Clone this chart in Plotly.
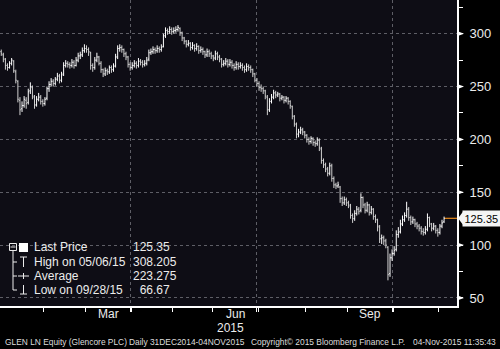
import plotly.graph_objects as go
import pandas as pd

# ---------------- data ----------------
holidays = ["2015-01-01", "2015-04-03", "2015-04-06", "2015-05-04", "2015-05-25", "2015-08-31"]

opens = [285, 283, 280, 276, 270, 268, 272, 274, 264, 255, 237, 229, 232, 237, 235, 246, 249, 240, 233, 238,
         240, 236, 234, 239, 248, 252, 255, 253, 257, 260, 256, 262, 270, 272, 271, 270, 273, 270, 275, 279,
         280, 284, 286, 285, 282, 270, 268, 275, 278, 272, 266, 262, 265, 264, 268, 266, 270, 278, 286, 287,
         285, 281, 278, 271, 268, 270, 272, 270, 274, 273, 271, 272, 276, 282, 283, 285, 284, 286, 285, 288,
         298, 303, 302, 304, 302, 303, 304, 305, 301, 296, 293, 290, 291, 287, 289, 286, 288, 284, 285, 283,
         280, 283, 281, 279, 277, 281, 278, 276, 271, 272, 274, 271, 273, 270, 268, 271, 269, 270, 268, 266,
         269, 268, 266, 262, 256, 253, 249, 248, 246, 240, 228, 236, 240, 244, 242, 243, 239, 240, 237, 239,
         236, 231, 222, 214, 205, 207, 209, 207, 204, 200, 198, 201, 197, 196, 199, 191, 180, 176, 172, 168,
         175, 163, 157, 156, 155, 144, 140, 143, 140, 137, 128, 125, 130, 134, 133, 145, 138, 133, 138, 131,
         134, 127, 124, 117, 106, 107, 104, 98, 73, 88, 92, 96, 110, 113, 120, 124, 128, 134, 126, 122,
         124, 120, 118, 116, 113, 112, 115, 126, 120, 116, 118, 114, 112, 118, 122]
highs = [287, 285, 282, 277, 272, 274, 277, 275, 266, 256, 240, 236, 241, 240, 248, 254, 251, 242, 241, 244,
         242, 238, 240, 250, 255, 258, 257, 259, 263, 262, 264, 273, 275, 274, 273, 276, 275, 278, 282, 283,
         287, 290, 289, 287, 283, 272, 278, 282, 279, 274, 267, 268, 267, 270, 270, 272, 281, 289, 290, 289,
         286, 283, 279, 273, 273, 275, 274, 277, 276, 275, 275, 278, 285, 286, 288, 287, 289, 288, 290, 300,
         306, 305, 307, 306, 306, 307, 308.205, 306, 302, 297, 294, 294, 292, 292, 290, 291, 289, 288, 287, 284,
         286, 285, 283, 280, 284, 283, 280, 277, 275, 277, 276, 276, 275, 272, 274, 273, 273, 272, 270, 272,
         271, 270, 267, 263, 258, 255, 252, 250, 247, 242, 239, 243, 247, 246, 245, 244, 242, 241, 241, 240,
         237, 232, 223, 216, 210, 212, 211, 208, 205, 202, 203, 202, 199, 202, 201, 193, 182, 178, 174, 178,
         177, 165, 159, 160, 156, 146, 146, 145, 142, 139, 130, 133, 137, 136, 149, 146, 140, 141, 139, 137,
         135, 129, 125, 119, 110, 109, 106, 99, 92, 96, 99, 114, 117, 124, 128, 131, 141, 136, 128, 127,
         125, 122, 120, 118, 116, 118, 130, 127, 121, 121, 119, 116, 120, 124, 127]
lows = [281, 279, 273, 266, 265, 267, 270, 263, 253, 235, 223, 226, 230, 229, 233, 243, 238, 229, 231, 236,
        233, 231, 232, 237, 245, 250, 250, 251, 255, 253, 254, 260, 268, 268, 267, 268, 267, 269, 273, 276,
        278, 282, 282, 279, 266, 264, 266, 273, 270, 263, 259, 260, 261, 262, 263, 264, 268, 276, 283, 282,
        278, 275, 268, 265, 266, 268, 267, 268, 270, 268, 269, 270, 274, 280, 281, 281, 282, 282, 283, 287,
        296, 299, 300, 299, 300, 301, 302, 298, 293, 290, 287, 288, 284, 285, 283, 284, 281, 282, 280, 277,
        278, 278, 276, 274, 275, 275, 273, 268, 269, 270, 268, 269, 267, 265, 266, 266, 267, 265, 263, 264,
        265, 263, 259, 254, 250, 246, 245, 243, 238, 223, 226, 234, 238, 239, 240, 236, 237, 234, 235, 233,
        229, 219, 212, 201, 202, 205, 204, 201, 197, 195, 196, 194, 193, 194, 189, 177, 173, 169, 165, 166,
        160, 154, 153, 154, 140, 137, 138, 137, 135, 125, 121, 123, 128, 129, 131, 135, 130, 131, 128, 129,
        124, 121, 113, 102, 101, 100, 97, 66.67, 70, 85, 90, 94, 107, 111, 118, 122, 126, 123, 119, 120,
        117, 115, 113, 110, 109, 110, 113, 117, 113, 114, 111, 108, 110, 116, 121]
closes = [283, 281, 276, 270, 268, 272, 275, 265, 256, 238, 228, 232, 238, 234, 245, 250, 241, 232, 238, 240,
          236, 234, 238, 248, 252, 255, 253, 257, 260, 256, 261, 270, 272, 271, 270, 273, 270, 275, 279, 280,
          284, 286, 285, 283, 270, 268, 275, 278, 272, 266, 262, 265, 264, 268, 266, 269, 278, 286, 287, 285,
          281, 278, 271, 268, 270, 272, 270, 274, 273, 271, 272, 275, 282, 283, 285, 284, 286, 285, 287, 298,
          303, 302, 304, 302, 303, 304, 306, 301, 296, 293, 290, 291, 287, 289, 286, 288, 284, 285, 283, 280,
          283, 281, 279, 277, 281, 278, 276, 271, 272, 274, 271, 273, 270, 268, 271, 269, 270, 268, 266, 269,
          268, 266, 262, 256, 253, 249, 248, 246, 241, 228, 236, 240, 244, 242, 243, 239, 240, 237, 239, 236,
          232, 222, 215, 205, 207, 209, 207, 204, 200, 198, 201, 197, 196, 200, 192, 180, 176, 172, 168, 175,
          163, 157, 156, 157, 144, 140, 143, 140, 138, 128, 125, 130, 134, 132, 145, 138, 133, 138, 131, 134,
          127, 124, 118, 106, 107, 104, 100, 72, 88, 92, 95, 110, 112, 120, 124, 128, 134, 126, 122, 124,
          120, 118, 116, 113, 112, 115, 126, 120, 116, 118, 114, 112, 118, 121, 125.35]

y_ticks = [50, 100, 150, 200, 250, 300]
last_price = 125.35
legend_rows = [("Last Price", "125.35"), ("High on 05/06/15", "308.205"),
               ("Average", "223.275"), ("Low on 09/28/15", " 66.67")]
month_labels = ["Mar", "Jun", "Sep"]
year_label = "2015"
footer_left = "GLEN LN Equity (Glencore PLC)"
footer_mid = "Daily 31DEC2014-04NOV2015"
footer_copy = "Copyright\u00a9 2015 Bloomberg Finance L.P."
footer_time = "04-Nov-2015 11:35:43"

# ---------------- geometry ----------------
W, H = 500, 349
PL, PR, PT, PB = 0, 457, 0, 306       # plot area in pixels
X_RANGE = [0.4, 0.4 + (PR - PL) / 2.079]
Y_RANGE = [42.4, 331.9]

n = len(closes)
dates = pd.bdate_range("2014-12-31", "2015-11-04", freq="C", holidays=holidays)[:n]
xs = list(range(n))


def px(x):
    return (x - PL) / (PR - PL)


def py(y):
    return (PB - y) / (PB - PT)


def ypx_per_unit():
    return (PB - PT) / (Y_RANGE[1] - Y_RANGE[0])


first_idx = {}
last_idx = {}
for i, d in enumerate(dates):
    key = (d.year, d.month)
    first_idx.setdefault(key, i)
    last_idx[key] = i
keys = list(first_idx.keys())
minor_ticks = [first_idx[k] - 0.5 for k in keys[2:]]
quarter_ends = [last_idx[(2015, m)] for m in (3, 6, 9)]
month_centers = {m: (first_idx[(2015, m)] + last_idx[(2015, m)]) / 2 for m in (3, 6, 9)}

BG = "#0e0d15"
FG = "#ececec"
FONT = "Liberation Sans, Arial, sans-serif"

fig = go.Figure()
fig.add_trace(go.Ohlc(
    x=xs, open=opens, high=highs, low=lows, close=closes,
    increasing=dict(line=dict(color="#ffffff", width=1)),
    decreasing=dict(line=dict(color="#d0d0d0", width=1)),
    tickwidth=0.45, showlegend=False, hoverinfo="skip",
))

shapes = []
annotations = []

# legend background (hides gridlines)
shapes.append(dict(type="rect", xref="paper", yref="paper", x0=px(0), x1=px(173), y0=py(297), y1=py(237),
                   fillcolor=BG, line=dict(width=0), layer="between"))

# y-axis tick triangles
tri_h = 2.6 / ypx_per_unit()
for v in y_ticks:
    shapes.append(dict(type="path", xref="paper", yref="y",
                       path=f"M 1,{v - tri_h} L {px(PR + 7)},{v} L 1,{v + tri_h} Z",
                       fillcolor="#ffffff", line=dict(width=0), layer="above"))

# last price line and label pointer
shapes.append(dict(type="line", xref="x", yref="y", x0=xs[-1] + 0.35, x1=X_RANGE[1] + 1,
                   y0=last_price, y1=last_price, line=dict(color="#e8891b", width=1.2), layer="above"))
ph = 6.5 / ypx_per_unit()
shapes.append(dict(type="path", xref="paper", yref="y",
                   path=f"M {px(PR + 1)},{last_price} L {px(PR + 6)},{last_price + ph} "
                        f"L {px(PR + 6)},{last_price - ph} Z",
                   fillcolor="#f4f4f4", line=dict(width=0), layer="above"))
annotations.append(dict(xref="paper", yref="y", x=px(PR + 5), y=last_price, xanchor="left", yanchor="middle",
                        text=str(last_price), showarrow=False, bgcolor="#f4f4f4", borderpad=1.5,
                        font=dict(family=FONT, size=11, color="#000000")))

# legend icons
lc = dict(color=FG, width=1)
shapes += [
    dict(type="rect", xref="paper", yref="paper", x0=px(9.5), x1=px(16.5), y0=py(250.5), y1=py(243.5), line=lc),
    dict(type="line", xref="paper", yref="paper", x0=px(10.5), x1=px(15.5), y0=py(247), y1=py(247), line=lc),
    dict(type="rect", xref="paper", yref="paper", x0=px(19), x1=px(28), y0=py(252), y1=py(243),
         fillcolor="#ffffff", line=dict(width=0)),
    dict(type="line", xref="paper", yref="paper", x0=px(13), x1=px(13), y0=py(251), y1=py(290), line=lc),
    dict(type="line", xref="paper", yref="paper", x0=px(13), x1=px(17), y0=py(262), y1=py(262), line=lc),
    dict(type="line", xref="paper", yref="paper", x0=px(13), x1=px(17), y0=py(276), y1=py(276), line=lc),
    dict(type="line", xref="paper", yref="paper", x0=px(13), x1=px(17), y0=py(290), y1=py(290), line=lc),
    dict(type="line", xref="paper", yref="paper", x0=px(20), x1=px(27), y0=py(257), y1=py(257), line=lc),
    dict(type="line", xref="paper", yref="paper", x0=px(23.5), x1=px(23.5), y0=py(257), y1=py(267), line=lc),
    dict(type="line", xref="paper", yref="paper", x0=px(18), x1=px(29), y0=py(276), y1=py(276), line=lc),
    dict(type="line", xref="paper", yref="paper", x0=px(23.5), x1=px(23.5), y0=py(273), y1=py(279), line=lc),
    dict(type="line", xref="paper", yref="paper", x0=px(23.5), x1=px(23.5), y0=py(285), y1=py(294), line=lc),
    dict(type="line", xref="paper", yref="paper", x0=px(20), x1=px(27), y0=py(294), y1=py(294), line=lc),
]

row_y = [247, 262, 275.5, 290]
for (lab, val), yy in zip(legend_rows, row_y):
    annotations.append(dict(xref="paper", yref="paper", x=px(32), y=py(yy), xanchor="left", yanchor="middle",
                            text=lab, showarrow=False, font=dict(family=FONT, size=12, color=FG)))
    annotations.append(dict(xref="paper", yref="paper", x=px(131), y=py(yy), xanchor="left", yanchor="middle",
                            text=val.replace(" ", "&nbsp;&nbsp;"), showarrow=False,
                            font=dict(family=FONT, size=12, color=FG)))

for lab, m in zip(month_labels, (3, 6, 9)):
    annotations.append(dict(xref="x", yref="paper", x=month_centers[m], y=py(314), xanchor="center",
                            yanchor="middle", text=lab, showarrow=False,
                            font=dict(family=FONT, size=12, color=FG)))
annotations.append(dict(xref="x", yref="paper", x=month_centers[6], xshift=-5, y=py(328), xanchor="center",
                        yanchor="middle", text=year_label, showarrow=False,
                        font=dict(family=FONT, size=12, color=FG)))

ff = dict(family=FONT, size=8.4, color="#dddddd")
annotations += [
    dict(xref="paper", yref="paper", x=px(3), y=py(342), xanchor="left", yanchor="middle",
         text=footer_left, showarrow=False, font=ff),
    dict(xref="paper", yref="paper", x=px(127), y=py(342), xanchor="left", yanchor="middle",
         text=footer_mid, showarrow=False, font=ff),
    dict(xref="paper", yref="paper", x=px(249), y=py(342), xanchor="left", yanchor="middle",
         text=footer_copy, showarrow=False, font=ff),
    dict(xref="paper", yref="paper", x=px(498), y=py(342), xanchor="right", yanchor="middle",
         text=footer_time, showarrow=False, font=ff),
]

grid = dict(showgrid=True, gridcolor="#5e5e66", griddash="dot", gridwidth=1)

fig.update_layout(
    width=W, height=H,
    margin=dict(l=PL, r=W - PR, t=PT, b=H - PB, pad=0),
    paper_bgcolor="#000000", plot_bgcolor=BG,
    shapes=shapes, annotations=annotations,
    xaxis=dict(range=X_RANGE, rangeslider=dict(visible=False), tickmode="array", tickvals=quarter_ends,
               showticklabels=False, ticks="outside", ticklen=4, tickcolor="#ffffff", showline=True,
               linecolor="#ffffff", linewidth=2, zeroline=False, fixedrange=True,
               minor=dict(tickmode="array", tickvals=minor_ticks, ticks="outside", ticklen=4,
                          tickcolor="#ffffff", showgrid=False),
               **grid),
    yaxis=dict(range=Y_RANGE, side="right", tickmode="array", tickvals=y_ticks, ticks="",
               ticklabelstandoff=8,
               showline=True, linecolor="#ffffff", linewidth=2, zeroline=False,
               tickfont=dict(family=FONT, size=13, color=FG),
               minor=dict(dtick=25, tick0=0, ticks="outside", ticklen=4, tickcolor="#ffffff", showgrid=False),
               **grid),
)

fig.write_html("out.html")
